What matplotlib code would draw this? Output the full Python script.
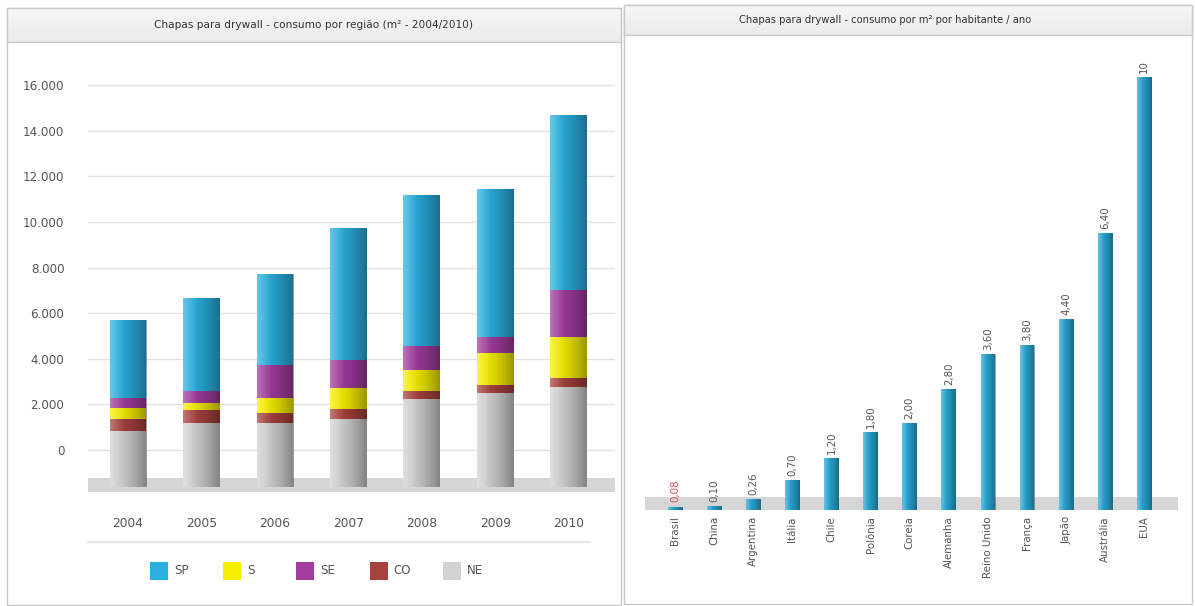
import numpy as np
import matplotlib
matplotlib.use("Agg")
import matplotlib.pyplot as plt
from matplotlib.patches import Rectangle
from matplotlib.lines import Line2D

# ---------------- data ----------------
years = ["2004", "2005", "2006", "2007", "2008", "2009", "2010"]
regions = ["SP", "S", "SE", "CO", "NE"]
ne = [830, 1190, 1190, 1360, 2240, 2500, 2760]
co = [530, 560, 430, 440, 350, 350, 400]
s_ = [480, 320, 660, 920, 920, 1400, 1800]
se = [440, 520, 1450, 1230, 1050, 710, 2060]
sp = [3420, 4080, 3990, 5790, 6620, 6490, 7670]
yticks_left = [0, 2000, 4000, 6000, 8000, 10000, 12000, 14000, 16000]
ytick_labels_left = ["0", "2.000", "4.000", "6.000", "8.000", "10.000", "12.000", "14.000", "16.000"]

countries = ["Brasil", "China", "Argentina", "Itália", "Chile", "Polônia", "Coreia",
             "Alemanha", "Reino Unido", "França", "Japão", "Austrália", "EUA"]
consumo = [0.08, 0.10, 0.26, 0.70, 1.20, 1.80, 2.00, 2.80, 3.60, 3.80, 4.40, 6.40, 10]
consumo_labels = ["0,08", "0,10", "0,26", "0,70", "1,20", "1,80", "2,00",
                  "2,80", "3,60", "3,80", "4,40", "6,40", "10"]

title_left = "Chapas para drywall - consumo por região (m² - 2004/2010)"
title_right = "Chapas para drywall - consumo por m² por habitante / ano"

# ---------------- style ----------------
C_SP = "#2ab0e0"
C_S = "#f6ee00"
C_SE = "#a23c9e"
C_CO = "#a8423e"
C_NE = "#d2d2d2"
C_BAR = "#2aaad8"
TXT = "#555555"

W, H = 1195, 606
fig = plt.figure(figsize=(W / 100, H / 100), dpi=100)
fig.patch.set_facecolor("white")


def fx(x):
    return x / W


def fy(y):
    return 1 - y / H


def panel(x0, y0, x1, y1, tb):
    fig.add_artist(Rectangle((fx(x0), fy(y1)), fx(x1) - fx(x0), fy(y0) - fy(y1),
                             transform=fig.transFigure, facecolor="white",
                             edgecolor="#c8c8c8", lw=1, zorder=0))
    # title band with soft gradient
    n = 12
    for k in range(n):
        ya = y0 + (tb - y0) * k / n
        yb = y0 + (tb - y0) * (k + 1) / n
        g = 0.965 - 0.045 * k / n
        fig.add_artist(Rectangle((fx(x0), fy(yb)), fx(x1) - fx(x0), fy(ya) - fy(yb),
                                 transform=fig.transFigure, facecolor=(g, g, g),
                                 edgecolor="none", zorder=0.5))
    fig.add_artist(Rectangle((fx(x0), fy(tb)), fx(x1) - fx(x0), fy(y0) - fy(tb),
                             transform=fig.transFigure, facecolor="none",
                             edgecolor="#c8c8c8", lw=1, zorder=0.6))


panel(7, 8, 621, 605, 42)
panel(624, 5, 1192, 604, 35)
fig.text(fx(314), fy(25), title_left, ha="center", va="center", fontsize=7.6, color="#333333")
fig.text(fx(885), fy(20), title_right, ha="center", va="center", fontsize=7.2, color="#333333")

# gradient images
t = np.linspace(0, 1, 64)
dark = np.zeros((1, 64, 4))
dark[..., 3] = 0.38 * t ** 1.6
light = np.ones((1, 64, 4))
light[..., 3] = np.clip(0.28 * (1 - t / 0.4), 0, None)


def shade(ax, bars):
    for p in bars:
        x0, y0, w, h = p.get_x(), p.get_y(), p.get_width(), p.get_height()
        for img in (light, dark):
            im = ax.imshow(img, extent=(x0, x0 + w, y0, y0 + h), aspect="auto",
                           zorder=p.get_zorder() + 0.1, interpolation="bilinear")
            im.set_clip_path(p)


# ---------------- left chart ----------------
axL = fig.add_axes([fx(88), fy(492), fx(615) - fx(88), fy(80) - fy(492)])
FLOOR = -1620
xs = np.arange(len(years))
bw = 0.5
axL.axhspan(-1842, -1228, color="#d6d6d6", zorder=1, lw=0)
for v in yticks_left:
    axL.axhline(v, color="#e2e2e2", lw=1, zorder=0.5)

ne_a = np.array(ne, float)
stack = [(ne_a - FLOOR, np.full(len(ne), FLOOR), C_NE)]
bottom = ne_a.copy()
for vals, col in [(co, C_CO), (s_, C_S), (se, C_SE), (sp, C_SP)]:
    stack.append((np.array(vals, float), bottom.copy(), col))
    bottom = bottom + np.array(vals, float)
for h, b, col in stack:
    bars = axL.bar(xs, h, bw, bottom=b, color=col, zorder=2, lw=0)
    shade(axL, bars)

axL.set_xlim(-0.544, 6.63)
axL.set_ylim(-1842, 16228)
axL.set_yticks(yticks_left)
axL.set_yticklabels(ytick_labels_left)
axL.set_xticks(xs)
axL.set_xticklabels(years)
axL.tick_params(axis="y", length=0, pad=17, labelsize=8.6, labelcolor=TXT)
axL.tick_params(axis="x", length=0, pad=18, labelsize=8.8, labelcolor=TXT)
for sp_ in axL.spines.values():
    sp_.set_visible(False)
axL.patch.set_alpha(0)

# separator and legend
fig.add_artist(Line2D([fx(88), fx(590)], [fy(542), fy(542)], transform=fig.transFigure,
                      color="#e6e6e6", lw=1.5))
leg_cols = [C_SP, C_S, C_SE, C_CO, C_NE]
for i, (lab, col) in enumerate(zip(regions, leg_cols)):
    x = 150 + 73.2 * i
    fig.add_artist(Rectangle((fx(x), fy(580)), fx(18), 18 / H, transform=fig.transFigure,
                             facecolor=col, edgecolor="none"))
    fig.text(fx(x + 24), fy(571), lab, ha="left", va="center", fontsize=8.6, color=TXT)

# ---------------- right chart ----------------
axR = fig.add_axes([fx(645), fy(512), fx(1178) - fx(645), fy(60) - fy(512)])
xr = np.arange(len(countries))
axR.axhspan(0, 0.30, color="#d6d6d6", zorder=1, lw=0)
bars = axR.bar(xr, consumo, 0.38, color=C_BAR, zorder=2, lw=0)
shade(axR, bars)
for i, (v, lab) in enumerate(zip(consumo, consumo_labels)):
    axR.annotate(lab, (xr[i], v), xytext=(0, 3), textcoords="offset points",
                 rotation=90, ha="center", va="bottom", fontsize=7.4,
                 color="#d9534f" if i == 0 else TXT)
axR.set_xlim(-0.77, 12.86)
axR.set_ylim(-0.046, 10.39)
axR.set_xticks(xr)
axR.set_xticklabels(countries, rotation=90, va="top", ha="center")
axR.tick_params(axis="x", length=0, pad=3, labelsize=7.4, labelcolor=TXT)
axR.set_yticks([])
for sp_ in axR.spines.values():
    sp_.set_visible(False)
axR.patch.set_alpha(0)

fig.savefig("out.png", dpi=100, facecolor="white")
